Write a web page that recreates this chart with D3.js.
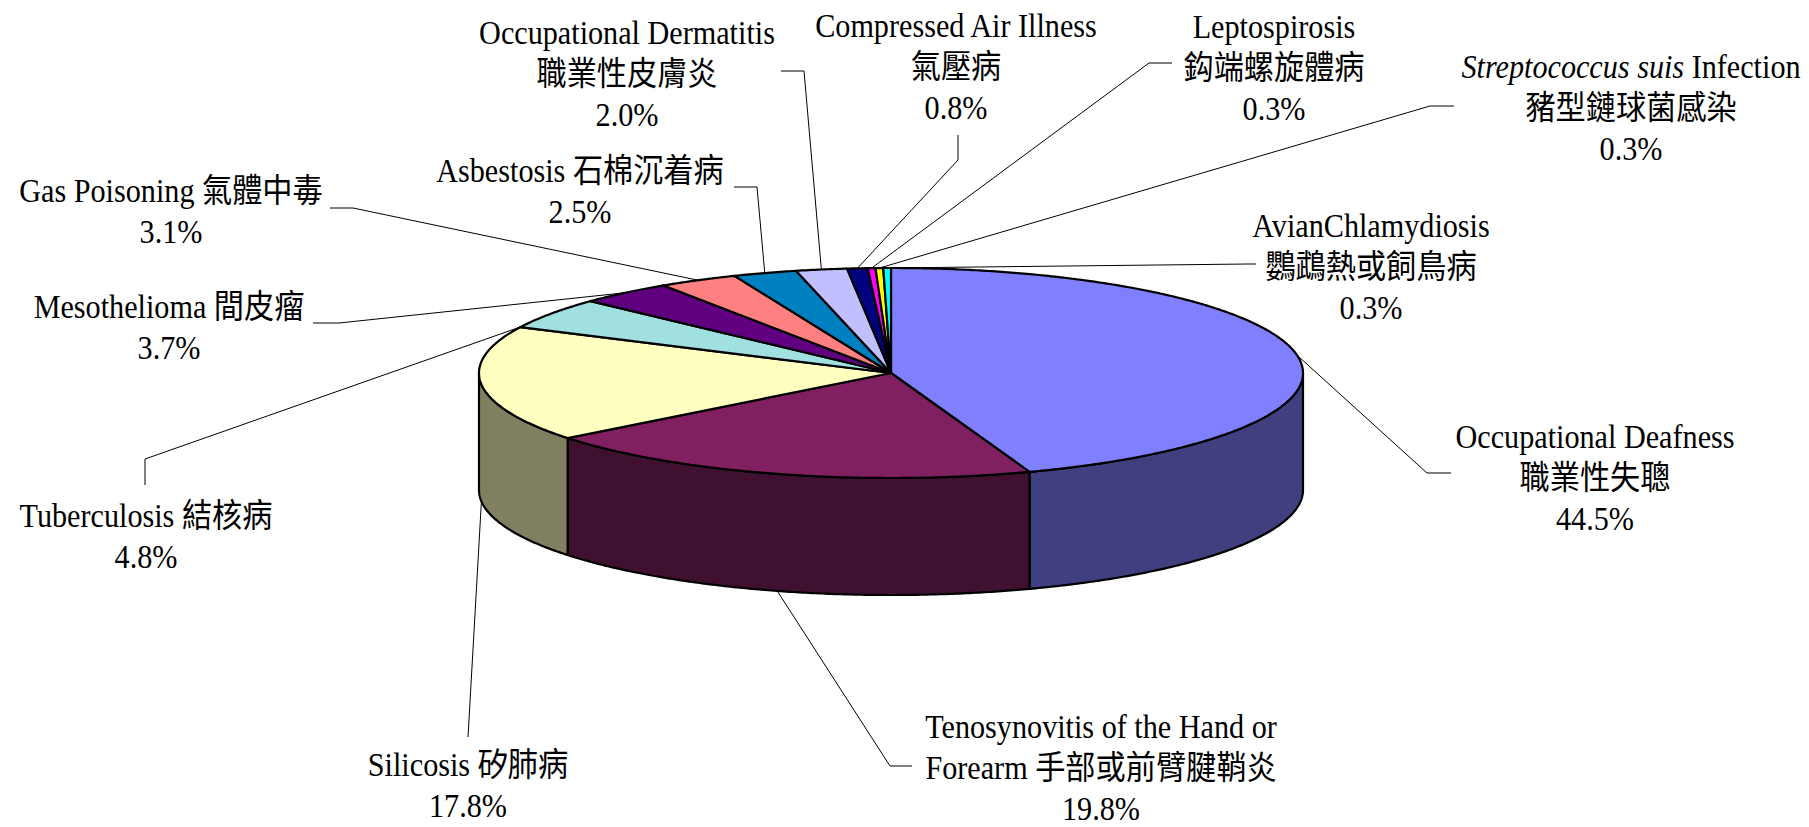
<!DOCTYPE html>
<html>
<head>
<meta charset="utf-8">
<title>Occupational Diseases</title>
<script src="https://d3js.org/d3.v7.min.js"></script>
<style>
  body { margin: 0; background: #fff; }
  text { font-family: "Liberation Serif", "Noto Sans CJK TC", serif; fill: #000; }
</style>
</head>
<body>
<div id="chart"></div>
<script>
// data: categories (English / Chinese) and share of cases (%)
var categoriesEn = ["Occupational Deafness", "Tenosynovitis of the Hand or Forearm", "Silicosis", "Tuberculosis",
  "Mesothelioma", "Gas Poisoning", "Asbestosis", "Occupational Dermatitis", "Compressed Air Illness",
  "Leptospirosis", "Streptococcus suis Infection", "AvianChlamydiosis"];
var categoriesZh = ["職業性失聰", "手部或前臂腱鞘炎", "矽肺病", "結核病", "間皮瘤", "氣體中毒", "石棉沉着病",
  "職業性皮膚炎", "氣壓病", "鈎端螺旋體病", "豬型鏈球菌感染", "鸚鵡熱或飼鳥病"];
var values = [44.5, 19.8, 17.8, 4.8, 3.7, 3.1, 2.5, 2.0, 0.8, 0.3, 0.3, 0.3];
var colors = ["#8080ff", "#802060", "#ffffc0", "#a0e0e0", "#600080", "#ff8080", "#0080c0",
  "#c0c0ff", "#000080", "#ff00ff", "#ffff00", "#00ffff"];
var italicTerms = ["Streptococcus suis"];

// label layout: centre x, first baseline, how lines are split, leader elbow points, where on the slice the leader ends
var labelLayout = [
  {x: 1595, y: 448, mode: "stack", path: [[1427, 473], [1451, 473]]},
  {x: 1101, y: 738, mode: "wrap", words: 5, path: [[890, 766], [912, 766]]},
  {x: 468, y: 776, mode: "inline", path: [[468, 737]]},
  {x: 146, y: 527, mode: "inline", path: [[145, 459], [145, 485]], t: 0.02},
  {x: 169, y: 318, mode: "inline", path: [[339, 323], [313, 323]]},
  {x: 171, y: 202, mode: "inline", path: [[353, 208], [330, 208]]},
  {x: 580, y: 182, mode: "inline", path: [[757, 187], [734, 187]]},
  {x: 627, y: 44, mode: "stack", path: [[804, 71], [781, 71]]},
  {x: 956, y: 37, mode: "stack", path: [[958, 160], [958, 135]]},
  {x: 1274, y: 38, mode: "stack", path: [[1149, 63], [1172, 63]]},
  {x: 1631, y: 78, mode: "stack", path: [[1430, 106], [1454, 106]]},
  {x: 1371, y: 237, mode: "stack", path: [[1248, 264], [1256, 264]]}
];

var width = 1809, height = 827;
var cx = 891, cy = 373, rx = 412, ry = 105, depth = 117;
var lineGap = 41;

var svg = d3.select("#chart").append("svg")
  .attr("width", width)
  .attr("height", height);

var pie = d3.pie().sort(null).value(function(d) { return d; });
var arcs = pie(values);

function px(a) { return cx + rx * Math.sin(a); }
function py(a) { return cy - ry * Math.cos(a); }
function samples(a0, a1) {
  var n = Math.max(2, Math.ceil(Math.abs(a1 - a0) / 0.008));
  return d3.range(n + 1).map(function(i) { return a0 + (a1 - a0) * i / n; });
}
var line = d3.line();

// side walls (front half only)
var walls = svg.append("g");
arcs.forEach(function(d, i) {
  var a0 = Math.max(d.startAngle, Math.PI / 2), a1 = Math.min(d.endAngle, Math.PI * 1.5);
  if (a0 >= a1) return;
  var top = samples(a0, a1).map(function(a) { return [px(a), py(a)]; });
  var bottom = samples(a1, a0).map(function(a) { return [px(a), py(a) + depth]; });
  var c = d3.rgb(colors[i]);
  walls.append("path")
    .attr("d", line(top.concat(bottom)) + "Z")
    .attr("fill", d3.rgb(c.r * 0.5, c.g * 0.5, c.b * 0.5))
    .attr("stroke", "#000")
    .attr("stroke-width", 2.2)
    .attr("stroke-linejoin", "round");
});

// top face
svg.append("g").selectAll("path")
  .data(arcs)
  .enter()
  .append("path")
  .attr("d", function(d) {
    var pts = [[cx, cy]].concat(samples(d.startAngle, d.endAngle).map(function(a) { return [px(a), py(a)]; }));
    return line(pts) + "Z";
  })
  .attr("fill", function(d, i) { return colors[i]; })
  .attr("stroke", "#000")
  .attr("stroke-width", 2.2)
  .attr("stroke-linejoin", "round");

// leader lines
var leaders = svg.append("g");
arcs.forEach(function(d, i) {
  var L = labelLayout[i];
  var t = L.t === undefined ? 0.5 : L.t;
  var a = d.startAngle + (d.endAngle - d.startAngle) * t;
  var p = [px(a), py(a)];
  if (Math.cos(a) < 0) p[1] += depth;
  leaders.append("path")
    .attr("d", line([p].concat(L.path)))
    .attr("fill", "none")
    .attr("stroke", "#000")
    .attr("stroke-width", 1);
});

// labels
var fmt = d3.format(".1f");
function addRuns(textSel, str) {
  var term = italicTerms.find(function(s) { return str.indexOf(s) === 0; });
  var parts = term ? [[term, true], [str.slice(term.length), false]] : [[str, false]];
  parts.forEach(function(p) {
    textSel.append("tspan")
      .style("font-style", p[1] ? "italic" : "normal")
      .text(p[0]);
  });
}
var labels = svg.append("g");
labelLayout.forEach(function(L, i) {
  var en = categoriesEn[i], zh = categoriesZh[i], pct = fmt(values[i]) + "%";
  var lines;
  if (L.mode === "stack") lines = [en, zh, pct];
  else if (L.mode === "wrap") {
    var w = en.split(" ");
    lines = [w.slice(0, L.words).join(" "), w.slice(L.words).join(" ") + " " + zh, pct];
  } else lines = [en + " " + zh, pct];
  var g = labels.append("g")
    .attr("transform", "translate(" + L.x + "," + L.y + ") scale(0.915,1)");
  lines.forEach(function(s, k) {
    var t = g.append("text")
      .attr("y", k * lineGap)
      .attr("text-anchor", "middle")
      .style("font-size", "33px");
    addRuns(t, s);
  });
});
</script>
</body>
</html>
